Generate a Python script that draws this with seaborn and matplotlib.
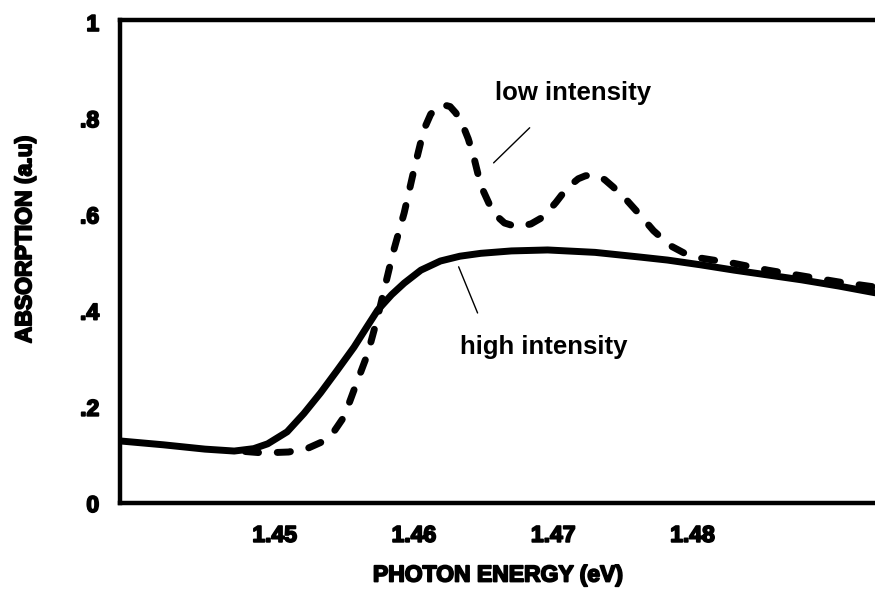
import matplotlib
matplotlib.use("Agg")
import matplotlib.pyplot as plt
import matplotlib.patheffects as pe
import seaborn as sns
import pandas as pd

# ---- data ----
high_energy = [1.4389, 1.4420, 1.4450, 1.4471, 1.4485, 1.4495, 1.4509, 1.4521, 1.4533,
               1.4545, 1.4557, 1.4566, 1.4574, 1.4584, 1.4593, 1.4605, 1.4619, 1.4633,
               1.4648, 1.4670, 1.4696, 1.4730, 1.4763, 1.4782, 1.4806, 1.4830, 1.4854,
               1.4878, 1.4905, 1.4931]
high_absorb = [0.129, 0.121, 0.112, 0.108, 0.113, 0.123, 0.148, 0.186, 0.229,
               0.276, 0.324, 0.365, 0.401, 0.433, 0.457, 0.484, 0.503, 0.513,
               0.519, 0.524, 0.526, 0.521, 0.511, 0.505, 0.495, 0.484, 0.474,
               0.464, 0.451, 0.437]

low_energy = [1.4479, 1.4492, 1.4510, 1.4524, 1.4534, 1.4542, 1.4550, 1.4557, 1.4567,
              1.4574, 1.4585, 1.4593, 1.4600, 1.4607, 1.4612, 1.4617, 1.4621, 1.4626,
              1.4630, 1.4634, 1.4639, 1.4643, 1.4648, 1.4657, 1.4665, 1.4674, 1.4684,
              1.4693, 1.4702, 1.4710, 1.4718, 1.4723, 1.4727, 1.4732, 1.4737, 1.4743,
              1.4752, 1.4761, 1.4772, 1.4784, 1.4795, 1.4806, 1.4830, 1.4854, 1.4883,
              1.4906, 1.4931]
low_absorb = [0.107, 0.104, 0.106, 0.114, 0.127, 0.146, 0.180, 0.235, 0.312,
              0.387, 0.520, 0.603, 0.692, 0.775, 0.808, 0.824, 0.828, 0.824,
              0.811, 0.793, 0.757, 0.719, 0.660, 0.603, 0.582, 0.574, 0.580,
              0.595, 0.625, 0.655, 0.674, 0.680, 0.682, 0.680, 0.672, 0.657,
              0.632, 0.603, 0.566, 0.535, 0.518, 0.509, 0.498, 0.484, 0.470,
              0.459, 0.449]

x_ticks = [1.45, 1.46, 1.47, 1.48]
x_tick_labels = ["1.45", "1.46", "1.47", "1.48"]
y_ticks = [0, 0.2, 0.4, 0.6, 0.8, 1.0]
y_tick_labels = ["0", ".2", ".4", ".6", ".8", "1"]

# ---- style ----
sns.set_style("white")
plt.rcParams["font.family"] = ["Liberation Sans", "DejaVu Sans"]
plt.rcParams["font.weight"] = "bold"
plt.rcParams["text.color"] = "black"
plt.rcParams["axes.labelcolor"] = "black"
plt.rcParams["xtick.color"] = "black"
plt.rcParams["ytick.color"] = "black"

thick = [pe.withStroke(linewidth=1.3, foreground="black")]

fig = plt.figure(figsize=(8.75, 5.92), dpi=100)
ax = fig.add_axes([120 / 875, 89 / 592, 755 / 875, 483 / 592])

df_high = pd.DataFrame({"energy": high_energy, "absorption": high_absorb})
df_low = pd.DataFrame({"energy": low_energy, "absorption": low_absorb})

sns.lineplot(data=df_high, x="energy", y="absorption", ax=ax, color="black",
             linewidth=5, solid_capstyle="round", sort=True)
sns.lineplot(data=df_low, x="energy", y="absorption", ax=ax, color="black",
             linewidth=5, sort=True)
line = ax.get_lines()[-1]
line.set_dashes((1.9, 2.7))
line.set_dash_capstyle("round")

ax.set_xlim(1.4389, 1.4931)
ax.set_ylim(0, 1.004)

ax.set_xticks(x_ticks)
ax.set_xticklabels(x_tick_labels)
ax.set_yticks(y_ticks)
ax.set_yticklabels(y_tick_labels)
ax.tick_params(axis="both", direction="in", length=12, width=2.2, color="black",
               labelsize=16.5, pad=15, labelcolor="black")
for lab in ax.get_xticklabels() + ax.get_yticklabels():
    lab.set_fontweight("bold")
    lab.set_path_effects(thick)

for side in ["left", "bottom", "top"]:
    ax.spines[side].set_visible(True)
    ax.spines[side].set_color("black")
    ax.spines[side].set_linewidth(3.2)
ax.spines["right"].set_visible(False)

xl = ax.set_xlabel("PHOTON ENERGY (eV)", fontsize=16.5, fontweight="bold", labelpad=12)
yl = ax.set_ylabel("ABSORPTION (a.u)", fontsize=16.5, fontweight="bold")
xl.set_path_effects(thick)
yl.set_path_effects(thick)
ax.yaxis.set_label_coords(-0.111, 0.545)

# annotations
ax.text(1.47146, 0.852, "low intensity", fontsize=18.5, fontweight="bold",
        ha="center", va="center", color="black")
ax.text(1.46931, 0.324, "high intensity", fontsize=18.5, fontweight="bold",
        ha="center", va="center", color="black")
ax.plot([1.46572, 1.46831], [0.707, 0.780], color="black", linewidth=1)
ax.plot([1.46321, 1.46457], [0.491, 0.395], color="black", linewidth=1)

fig.savefig("out.png", dpi=100)
